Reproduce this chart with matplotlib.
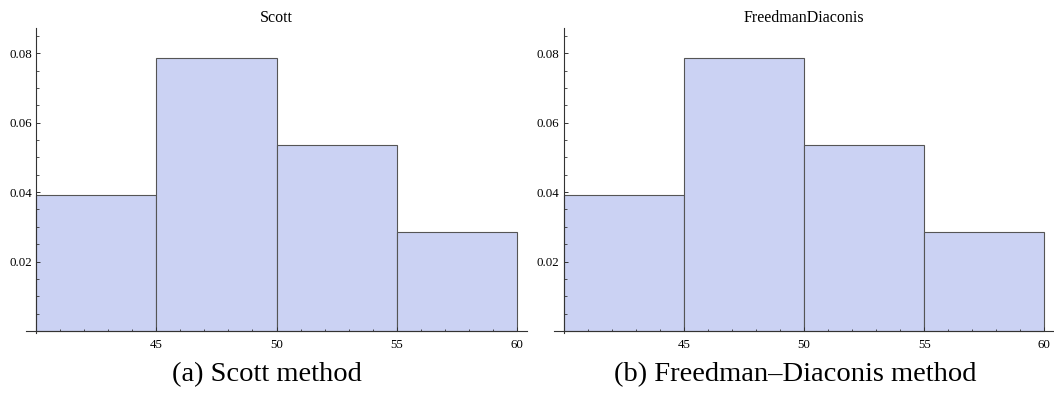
import matplotlib
matplotlib.use("Agg")
import matplotlib.pyplot as plt
from matplotlib.ticker import MultipleLocator, FixedLocator

# histogram data (density per bin)
bin_edges = [40, 45, 50, 55, 60]
densities = [0.0393, 0.0786, 0.0536, 0.0286]
titles = ["Scott", "FreedmanDiaconis"]
captions = ["(a) Scott method", "(b) Freedman\u2013Diaconis method"]
x_ticks = [45, 50, 55, 60]
y_ticks = [0.02, 0.04, 0.06, 0.08]

plt.rcParams['font.family'] = ['Liberation Serif', 'DejaVu Serif']

fill = '#CBD2F3'
edge = '#555555'
axcol = '#333333'

fig = plt.figure(figsize=(10.54, 3.96), dpi=100)

lefts = [26 / 1054, 553.5 / 1054]
caption_x = [267 / 1054, 795 / 1054]

for i in range(2):
	ax = fig.add_axes([lefts[i], 0.1591, 501 / 1054, 0.7702])
	widths = [bin_edges[j + 1] - bin_edges[j] for j in range(len(densities))]
	ax.bar(bin_edges[:-1], densities, width=widths, align='edge',
		color=fill, edgecolor=edge, linewidth=0.8)
	ax.set_xlim(39.58, 60.42)
	ax.set_ylim(-0.0006, 0.0873)

	ax.spines['top'].set_visible(False)
	ax.spines['right'].set_visible(False)
	ax.spines['left'].set_position(('data', 40))
	ax.spines['bottom'].set_position(('data', 0))
	for s in ['left', 'bottom']:
		ax.spines[s].set_color(axcol)
		ax.spines[s].set_linewidth(0.8)

	ax.xaxis.set_major_locator(FixedLocator(x_ticks))
	ax.xaxis.set_minor_locator(MultipleLocator(1))
	ax.yaxis.set_major_locator(FixedLocator(y_ticks))
	ax.yaxis.set_minor_locator(MultipleLocator(0.005))
	ax.set_yticklabels(["%.2f" % v for v in y_ticks])
	ax.tick_params(which='major', direction='in', length=3, width=0.7,
		color=axcol, labelsize=9.3)
	ax.tick_params(which='minor', direction='in', length=1.8, width=0.6,
		color=axcol)
	ax.tick_params(axis='x', which='major', pad=6)
	ax.tick_params(axis='y', which='major', pad=3)

	ax.set_title(titles[i], fontsize=11.5, pad=4)
	fig.text(caption_x[i], 0.053, captions[i], fontsize=20.5,
		ha='center', va='center')

fig.savefig("out.png", dpi=100)
